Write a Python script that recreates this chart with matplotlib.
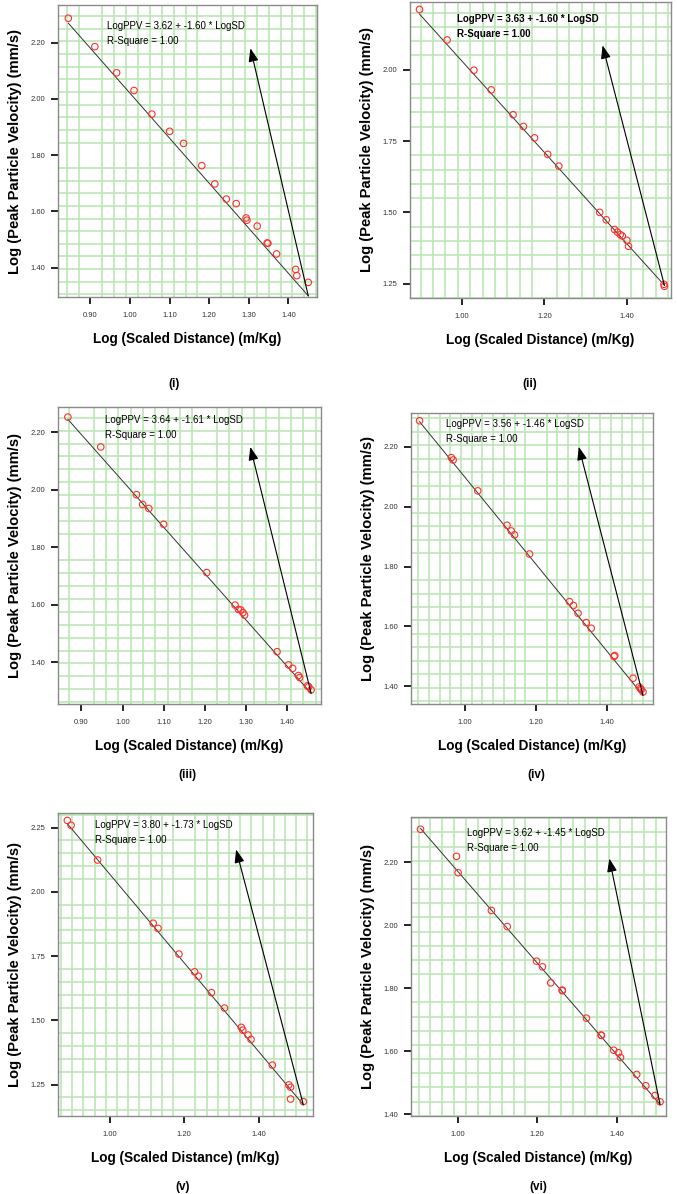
import matplotlib
matplotlib.use('Agg')
import matplotlib.pyplot as plt
from matplotlib.ticker import MultipleLocator, FixedLocator

plt.rcParams['font.family'] = ['Liberation Sans', 'DejaVu Sans']

# --- data ---
sd_i = [0.844, 0.911, 0.966, 1.010, 1.055, 1.100, 1.135, 1.181, 1.214, 1.243,
        1.268, 1.293, 1.295, 1.321, 1.346, 1.348, 1.370, 1.418, 1.421, 1.450]
ppv_i = [2.287, 2.186, 2.093, 2.030, 1.946, 1.885, 1.842, 1.763, 1.698, 1.644,
         1.628, 1.577, 1.569, 1.548, 1.488, 1.487, 1.449, 1.394, 1.372, 1.348]

sd_ii = [0.897, 0.964, 1.029, 1.071, 1.124, 1.149, 1.176, 1.208, 1.235, 1.334,
         1.350, 1.370, 1.377, 1.384, 1.389, 1.400, 1.404, 1.490, 1.491]
ppv_ii = [2.211, 2.104, 1.998, 1.929, 1.842, 1.801, 1.761, 1.703, 1.662, 1.500,
          1.474, 1.440, 1.431, 1.422, 1.417, 1.402, 1.381, 1.248, 1.241]

sd_iii = [0.867, 0.947, 1.034, 1.049, 1.064, 1.100, 1.205, 1.274, 1.282, 1.288,
          1.293, 1.297, 1.376, 1.404, 1.414, 1.428, 1.431, 1.450, 1.453, 1.459]
ppv_iii = [2.252, 2.148, 1.982, 1.948, 1.934, 1.879, 1.711, 1.598, 1.583, 1.581,
           1.572, 1.563, 1.436, 1.390, 1.378, 1.353, 1.346, 1.317, 1.314, 1.303]

sd_iv = [0.874, 0.963, 0.968, 1.037, 1.119, 1.131, 1.140, 1.182, 1.294, 1.305,
         1.318, 1.341, 1.355, 1.419, 1.421, 1.472, 1.489, 1.493, 1.495, 1.500]
ppv_iv = [2.287, 2.164, 2.156, 2.053, 1.938, 1.919, 1.906, 1.842, 1.683, 1.670,
          1.644, 1.613, 1.594, 1.500, 1.503, 1.427, 1.398, 1.393, 1.389, 1.381]

sd_v = [0.887, 0.897, 0.968, 1.117, 1.130, 1.186, 1.228, 1.238, 1.273, 1.308,
        1.353, 1.357, 1.371, 1.379, 1.436, 1.480, 1.485, 1.485, 1.519]
ppv_v = [2.278, 2.259, 2.124, 1.878, 1.858, 1.758, 1.689, 1.672, 1.608, 1.548,
         1.473, 1.462, 1.443, 1.426, 1.326, 1.249, 1.240, 1.194, 1.184]

sd_vi = [0.905, 0.996, 1.000, 1.084, 1.124, 1.198, 1.213, 1.234, 1.263, 1.263,
         1.324, 1.361, 1.362, 1.393, 1.405, 1.410, 1.451, 1.474, 1.497, 1.510]
ppv_vi = [2.305, 2.219, 2.167, 2.047, 1.996, 1.886, 1.868, 1.817, 1.794, 1.792,
          1.705, 1.651, 1.650, 1.603, 1.595, 1.580, 1.526, 1.490, 1.459, 1.439]

intercepts = [3.62, 3.63, 3.64, 3.56, 3.80, 3.62]
slopes = [-1.60, -1.60, -1.61, -1.46, -1.73, -1.45]
r_square = [1.00, 1.00, 1.00, 1.00, 1.00, 1.00]
tags = ['(i)', '(ii)', '(iii)', '(iv)', '(v)', '(vi)']

# arrow tips (head) per panel
arrow_head_x = [1.304, 1.341, 1.311, 1.320, 1.339, 1.382]
arrow_head_y = [2.180, 2.085, 2.148, 2.200, 2.165, 2.212]

W, H = 677, 1194
fig = plt.figure(figsize=(W / 100, H / 100), dpi=100)

# pixel boxes: left, right, top, bottom
boxes = [(58, 317, 5, 297), (410, 671, 2, 298),
         (58, 321, 407, 704), (411, 653, 413, 704),
         (58, 313, 813, 1116), (411, 666, 817, 1116)]
tag_xy = [(174, 384), (530, 384), (187, 775), (536, 775), (183, 1187), (538, 1187)]
xlims = [(0.818, 1.472), (0.874, 1.507), (0.843, 1.483),
         (0.850, 1.528), (0.862, 1.545), (0.881, 1.525)]
ylims = [(1.296, 2.334), (1.200, 2.237), (1.254, 2.287),
         (1.341, 2.313), (1.128, 2.307), (1.394, 2.344)]
xticks = [[0.9, 1.0, 1.1, 1.2, 1.3, 1.4], [1.0, 1.2, 1.4],
          [0.9, 1.0, 1.1, 1.2, 1.3, 1.4], [1.0, 1.2, 1.4],
          [1.0, 1.2, 1.4], [1.0, 1.2, 1.4]]
yticks = [[1.4, 1.6, 1.8, 2.0, 2.2], [1.25, 1.5, 1.75, 2.0],
          [1.4, 1.6, 1.8, 2.0, 2.2], [1.4, 1.6, 1.8, 2.0, 2.2],
          [1.25, 1.5, 1.75, 2.0, 2.25], [1.4, 1.6, 1.8, 2.0, 2.2]]
ygrid = [0.045, 0.05, 0.045, 0.045, 0.05, 0.045]
text_pos = [(0.19, 0.945), (0.179, 0.96), (0.178, 0.972),
            (0.145, 0.978), (0.146, 0.976), (0.218, 0.963)]
bold_text = [False, True, False, False, False, False]

xs = [sd_i, sd_ii, sd_iii, sd_iv, sd_v, sd_vi]
ys = [ppv_i, ppv_ii, ppv_iii, ppv_iv, ppv_v, ppv_vi]

green = '#b8e4b0'
for k in range(6):
    l, r, t, b = boxes[k]
    ax = fig.add_axes([l / W, 1 - b / H, (r - l) / W, (b - t) / H])
    x, y = xs[k], ys[k]
    ax.set_xlim(*xlims[k])
    ax.set_ylim(*ylims[k])

    ax.xaxis.set_major_locator(FixedLocator(xticks[k]))
    ax.yaxis.set_major_locator(FixedLocator(yticks[k]))
    ax.xaxis.set_minor_locator(MultipleLocator(0.03))
    ax.yaxis.set_minor_locator(MultipleLocator(ygrid[k]))
    ax.grid(True, which='minor', color=green, lw=1.1)
    ax.set_axisbelow(True)
    ax.tick_params(which='minor', length=0)
    ax.tick_params(which='major', direction='out', length=5, width=1.2,
                   labelsize=5.5, labelcolor='#333333')
    ax.tick_params(axis='x', pad=6)
    ax.tick_params(axis='y', pad=4)
    ax.set_xticklabels(['%.2f' % v for v in xticks[k]])
    ax.set_yticklabels(['%.2f' % v for v in yticks[k]])
    for s in ax.spines.values():
        s.set_color('#8a8a8a')
        s.set_linewidth(1.0)

    # fitted line
    x0, x1 = min(x), max(x)
    ax.plot([x0, x1], [intercepts[k] + slopes[k] * x0, intercepts[k] + slopes[k] * x1],
            color='#333333', lw=0.7, zorder=3)
    ax.scatter(x, y, s=22, facecolors='none', edgecolors='#ff3030', lw=0.8, zorder=4)

    # arrow from end of the fit line up to the annotation
    ax.annotate('', xy=(arrow_head_x[k], arrow_head_y[k]),
                xytext=(x1, intercepts[k] + slopes[k] * x1),
                arrowprops=dict(arrowstyle='-|>,head_length=0.8,head_width=0.3',
                                color='black', lw=0.8, shrinkA=0, shrinkB=0),
                zorder=5)

    tx, ty = text_pos[k]
    txt = 'LogPPV = %.2f + %.2f * LogSD\nR-Square = %.2f' % (intercepts[k], slopes[k], r_square[k])
    ax.text(tx, ty, txt, transform=ax.transAxes, fontsize=7, va='top', ha='left',
            linespacing=1.6, fontweight='bold' if bold_text[k] else 'normal', zorder=6)

    ax.set_xlabel('Log (Scaled Distance) (m/Kg)', fontsize=9.8, fontweight='bold', labelpad=9)
    ax.set_ylabel('Log (Peak Particle Velocity) (mm/s)', fontsize=10.6, fontweight='bold', labelpad=6)

    fig.text(tag_xy[k][0] / W, 1 - tag_xy[k][1] / H, tags[k], fontsize=8.5,
             fontweight='bold', ha='center', va='center')

fig.savefig('out.png', dpi=100)
